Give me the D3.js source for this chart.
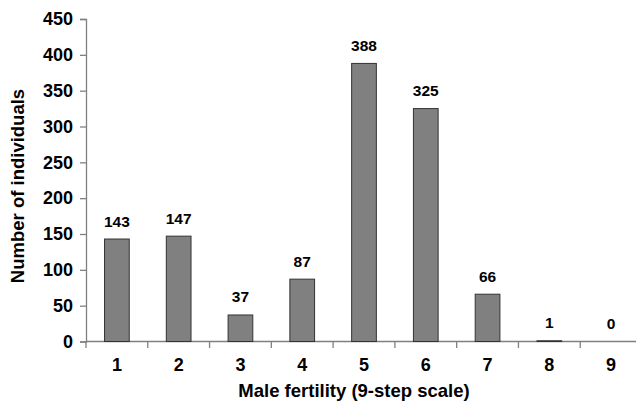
<!DOCTYPE html>
<html lang="en">
<head>
  <meta charset="UTF-8">
  <title>Male fertility</title>
  <style>
    body { margin: 0; background: #fff; }
    text { font-family: "Liberation Sans", Arial, sans-serif; font-weight: bold; fill: #000; }
  </style>
</head>
<body>
  <div id="app"></div>
  <script src="https://cdn.jsdelivr.net/npm/d3@7"></script>
  <script>
    const categories = ['1', '2', '3', '4', '5', '6', '7', '8', '9']
    const counts = [143, 147, 37, 87, 388, 325, 66, 1, 0]
    const yTicks = [0, 50, 100, 150, 200, 250, 300, 350, 400, 450]

    const width = 636, height = 404
    const svg = d3.select('#app').append('svg')
      .attr('width', width)
      .attr('height', height)

    const x = d3.scaleBand().domain(categories).range([86, 642]).paddingInner(0.6).paddingOuter(0.3)
    const xTick = d3.scaleLinear().domain([0, categories.length]).range([86, 642])
    const y = d3.scaleLinear().domain([0, 450]).range([341.5, 19])

    // y axis
    const yAxis = svg.append('g')
      .attr('transform', 'translate(86,0)')
      .call(d3.axisLeft(y).tickValues(yTicks).tickSize(6).tickPadding(7))
    yAxis.select('.domain').attr('stroke', '#808080').attr('stroke-width', 1.3)
    yAxis.selectAll('.tick line').attr('stroke', '#808080').attr('stroke-width', 1.3)
    yAxis.selectAll('.tick text')
      .style('font-size', '18px')
      .style('font-family', '"Liberation Sans", Arial, sans-serif')
      .style('font-weight', 'bold')
      .attr('fill', '#000')

    // x axis line with boundary ticks
    const xg = svg.append('g')
    xg.append('line')
      .attr('x1', 86).attr('x2', 642)
      .attr('y1', y(0)).attr('y2', y(0))
      .attr('stroke', '#808080').attr('stroke-width', 1.3)
    xg.selectAll('.xt').data(d3.range(categories.length + 1))
      .enter().append('line')
      .attr('x1', d => xTick(d)).attr('x2', d => xTick(d))
      .attr('y1', y(0)).attr('y2', y(0) + 6.5)
      .attr('stroke', '#808080').attr('stroke-width', 1.3)
    xg.selectAll('.xl').data(categories)
      .enter().append('text')
      .attr('x', d => x(d) + x.bandwidth() / 2)
      .attr('y', 370.5)
      .attr('text-anchor', 'middle')
      .style('font-size', '18px')
      .text(d => d)

    // bars
    svg.selectAll('.bar').data(counts)
      .enter().append('rect')
      .attr('x', (d, i) => x(categories[i]))
      .attr('y', d => y(d))
      .attr('width', x.bandwidth())
      .attr('height', d => y(0) - y(d))
      .attr('fill', '#808080')
      .attr('stroke', d => d > 0 ? '#333' : 'none')
      .attr('stroke-width', 1)

    // value labels
    svg.selectAll('.val').data(counts)
      .enter().append('text')
      .attr('x', (d, i) => x(categories[i]) + x.bandwidth() / 2)
      .attr('y', d => y(d) - 12.5)
      .attr('text-anchor', 'middle')
      .style('font-size', '15.5px')
      .text(d => d)

    // axis titles
    svg.append('text')
      .attr('x', 354).attr('y', 397)
      .attr('text-anchor', 'middle')
      .style('font-size', '18.5px')
      .text('Male fertility (9-step scale)')

    svg.append('text')
      .attr('transform', 'translate(24,186) rotate(-90)')
      .attr('text-anchor', 'middle')
      .style('font-size', '18.5px')
      .text('Number of individuals')
  </script>
</body>
</html>
